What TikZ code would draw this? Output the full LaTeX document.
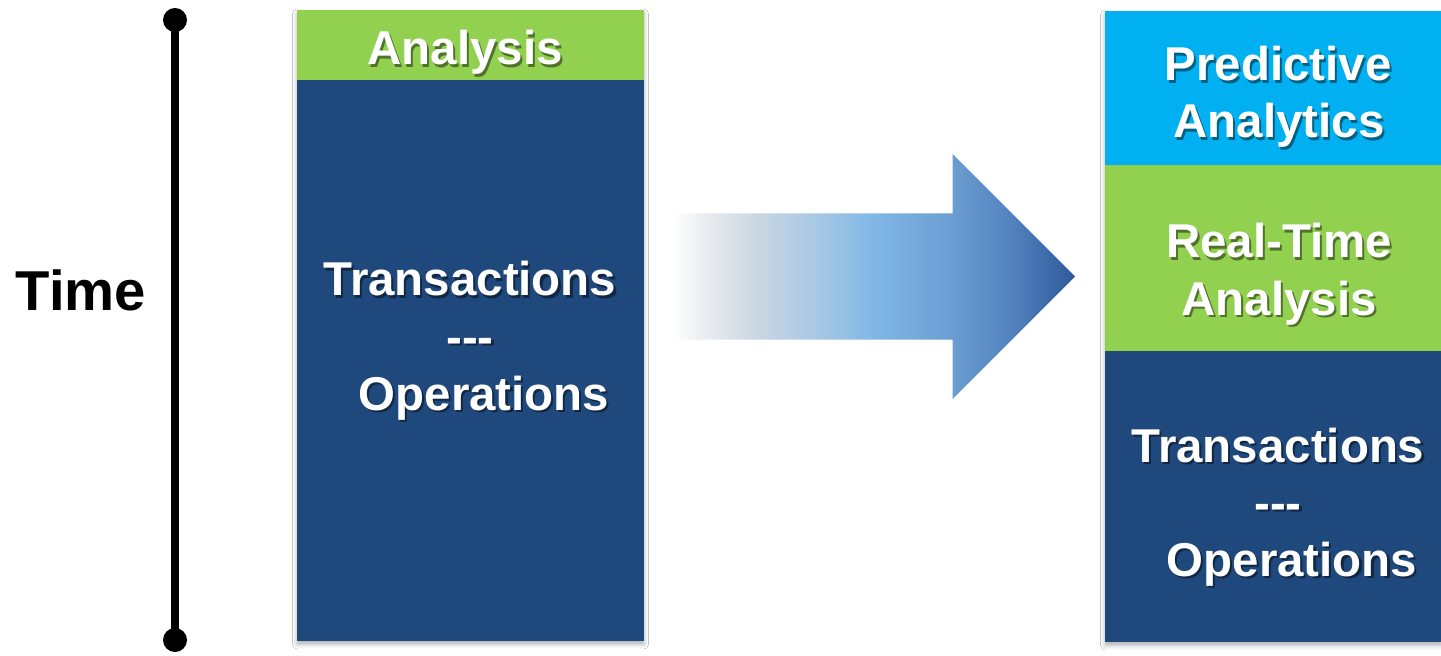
\documentclass[tikz,border=0pt]{standalone}
\usepackage{fontspec}
\setmainfont{Liberation Sans}
\usetikzlibrary{positioning,backgrounds,shadows.blur}
\definecolor{dbnavy}{RGB}{31,73,125}
\definecolor{dbgreen}{RGB}{146,208,80}
\definecolor{dbcyan}{RGB}{0,176,240}
% colour stops for the shift arrow
\definecolor{shiftA}{RGB}{236,238,240}
\definecolor{shiftB}{RGB}{200,214,226}
\definecolor{shiftC}{RGB}{166,199,228}
\definecolor{shiftD}{RGB}{130,184,230}
\definecolor{shiftE}{RGB}{107,158,210}
\definecolor{shiftF}{RGB}{83,131,191}
\definecolor{shiftG}{RGB}{47,90,155}
\pgfdeclarehorizontalshading{shiftshade}{100bp}{color(0bp)=(white); color(25bp)=(white);
  color(28.4bp)=(shiftA); color(35.8bp)=(shiftB); color(43.3bp)=(shiftC);
  color(49.5bp)=(shiftD); color(59.5bp)=(shiftE); color(66.9bp)=(shiftF);
  color(75bp)=(shiftG); color(100bp)=(shiftG)}
% white label with a soft dark copy underneath
\newcommand{\shadowline}[3]{%
  \node[lblshadow] (#1-sh) at (#2) {#3};
  \node[lbl] (#1) at (#2) {#3};}

\begin{document}
\begin{tikzpicture}[
    box/.style={inner sep=0pt, outer sep=0pt},
    lbl/.style={anchor=base, inner sep=0pt, text=white, font=\fontsize{27}{32}\selectfont\bfseries},
    lblshadow/.style={lbl, text=black, text opacity=0.45, xshift=1.2pt, yshift=-1.2pt},
    colshadow/.style={fill=white, blur shadow={shadow xshift=0pt, shadow yshift=-2pt, shadow blur radius=2.5pt, shadow opacity=30}}
  ]
  \useasboundingbox (0,0) rectangle (28.82,13.1);

  % time axis
  \coordinate (tstart) at (3.5,12.7);
  \coordinate (tend) at (3.5,0.3);
  \draw[line width=4.2pt] (tstart) -- (tend);
  \fill (tstart) circle (0.24);
  \fill (tend) circle (0.24);
  \node[anchor=base, inner sep=0pt, font=\fontsize{32}{38}\selectfont\bfseries] (time) at (1.62,6.9) {Time};

  % today: one stack
  \node[box, fill=dbgreen, minimum width=6.94cm, minimum height=1.4cm] (analysis) at (9.41,12.2) {};
  \node[box, fill=dbnavy, minimum width=6.94cm, minimum height=11.22cm, below=0pt of analysis] (oldops) {};

  % tomorrow: three layers
  \node[box, fill=dbcyan, minimum width=6.74cm, minimum height=3.08cm] (predictive) at (25.47,11.34) {};
  \node[box, fill=dbgreen, minimum width=6.74cm, minimum height=3.72cm, below=0pt of predictive] (realtime) {};
  \node[box, fill=dbnavy, minimum width=6.74cm, minimum height=5.82cm, below=0pt of realtime] (newops) {};

  % shift arrow
  \shade[shading=shiftshade] (13.46,8.83) -- (19.05,8.83) -- (19.05,10.02) -- (21.5,7.57)
    -- (19.05,5.12) -- (19.05,6.31) -- (13.46,6.31) -- cycle;

  \shadowline{analysisLbl}{9.3,11.8}{Analysis}
  \shadowline{oldTrans}{9.4,7.18}{Transactions}
  \shadowline{oldSep}{9.4,6.04}{-{}-{}-}
  \shadowline{oldOps}{9.68,4.9}{Operations}

  \shadowline{predLbl}{25.56,11.48}{Predictive}
  \shadowline{predLblB}{25.58,10.34}{Analytics}
  \shadowline{rtLbl}{25.58,7.94}{Real-Time}
  \shadowline{rtLblB}{25.58,6.8}{Analysis}
  \shadowline{newTrans}{25.56,3.86}{Transactions}
  \shadowline{newSep}{25.56,2.72}{-{}-{}-}
  \shadowline{newOps}{25.84,1.58}{Operations}

  \begin{scope}[on background layer]
    \fill[white] (0,0) rectangle (28.82,13.1);
    \path[colshadow] (analysis.north west) rectangle (oldops.south east);
    \path[colshadow] (predictive.north west) rectangle (newops.south east);
  \end{scope}
\end{tikzpicture}
\end{document}
